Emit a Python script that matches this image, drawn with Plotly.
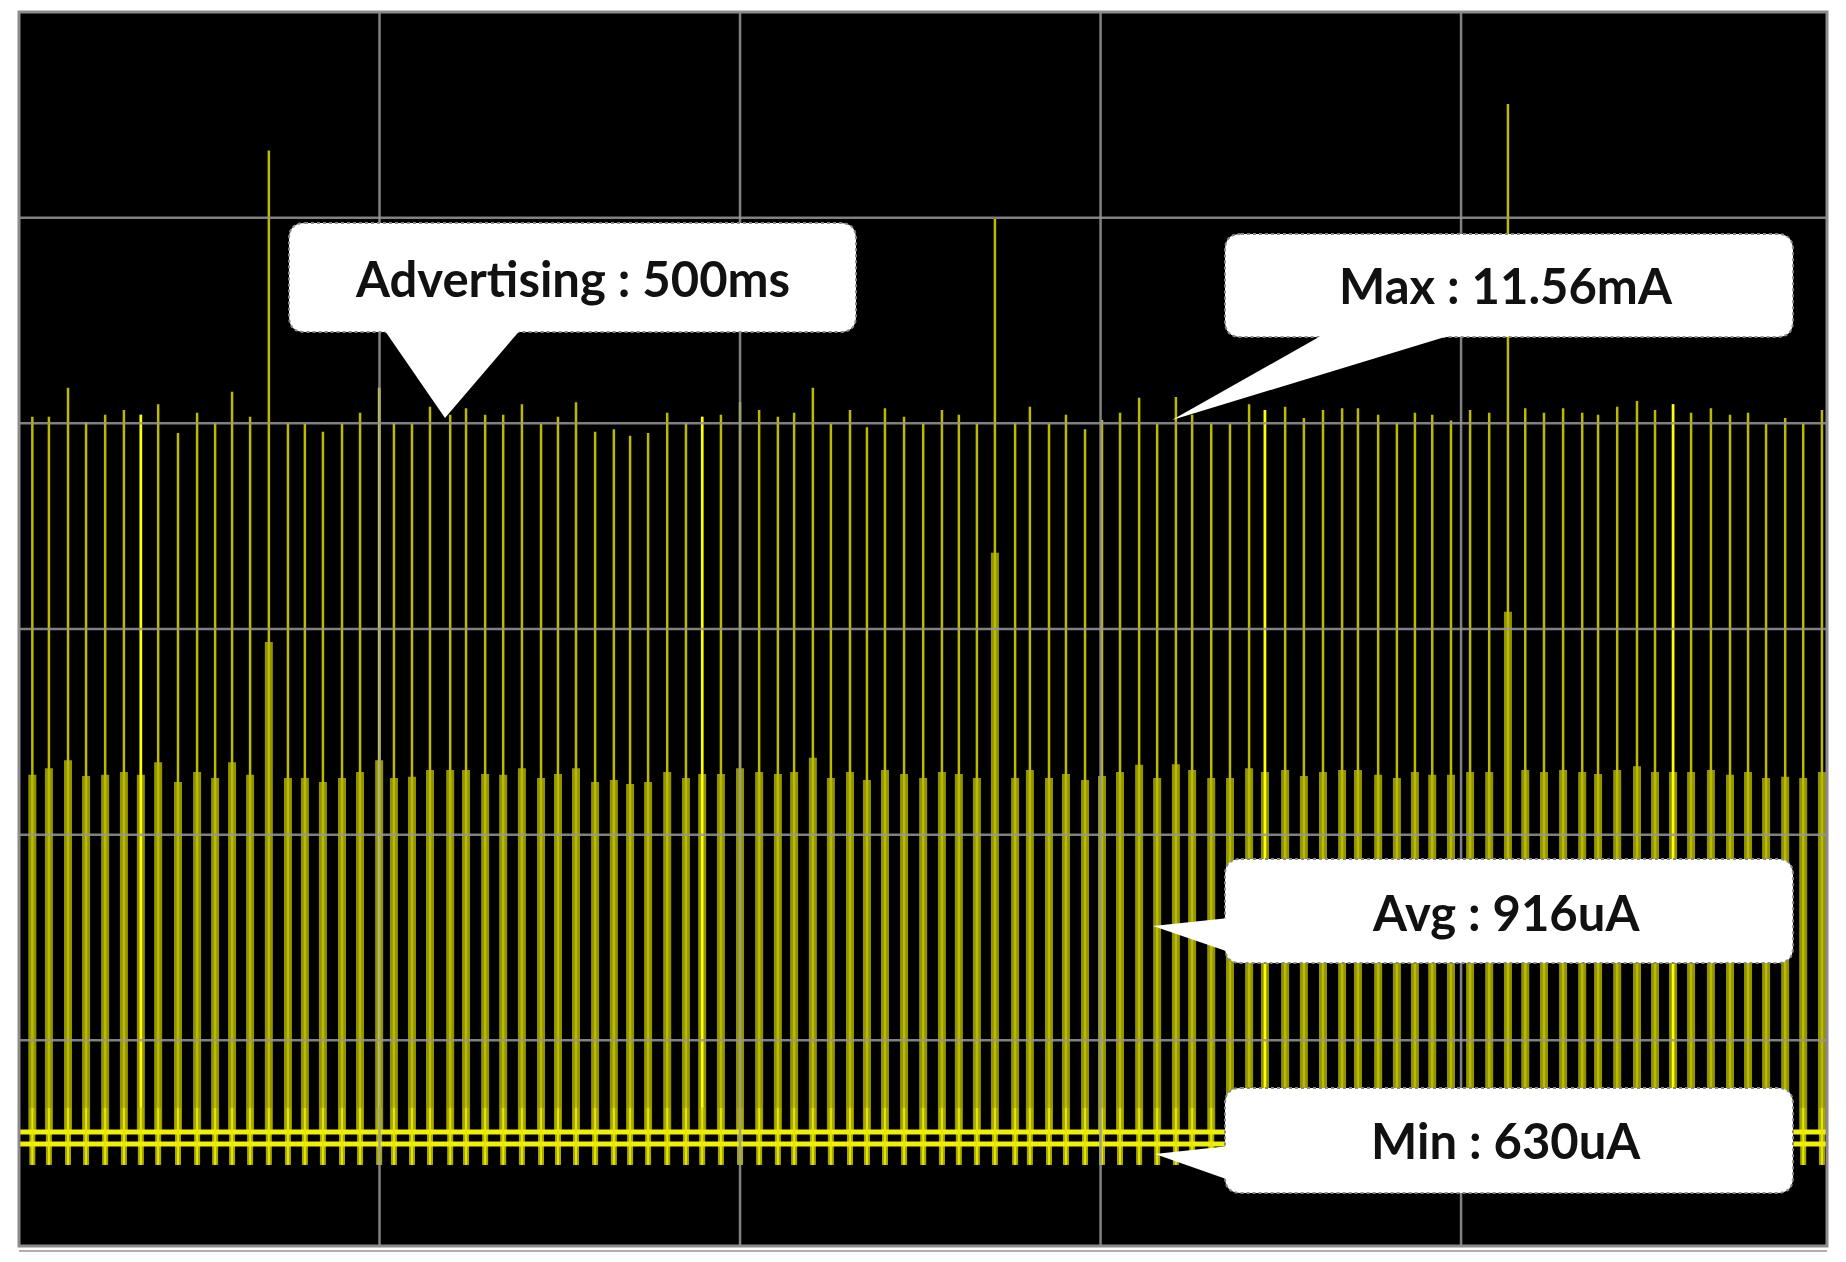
import plotly.graph_objects as go

# pulse times (s), 10 s per division
pulse_t = [0.37, 0.83, 1.36, 1.86, 2.39, 2.91, 3.38, 3.86, 4.41, 4.94,
           5.44, 5.91, 6.41, 6.93, 7.46, 7.93, 8.43, 8.96, 9.46, 9.99,
           10.40, 10.90, 11.40, 11.96, 12.40, 12.93, 13.43, 13.95, 14.48, 14.95,
           15.45, 15.98, 16.50, 16.95, 17.45, 17.98, 18.50, 18.95, 19.47, 20.00,
           20.53, 21.05, 21.50, 22.02, 22.52, 23.05, 23.52, 24.02, 24.55, 25.08,
           25.60, 26.07, 26.57, 27.07, 27.63, 28.04, 28.57, 29.04, 29.57, 30.04,
           30.54, 31.07, 31.57, 32.09, 32.54, 33.07, 33.59, 34.12, 34.56, 35.12,
           35.64, 36.17, 36.70, 37.14, 37.70, 38.22, 38.72, 39.20, 39.72, 40.25,
           40.78, 41.30, 41.78, 42.30, 42.83, 43.36, 43.80, 44.33, 44.88, 45.38,
           45.88, 46.38, 46.93, 47.46, 47.96, 48.46, 48.99, 49.49, 50.01]

# peak current of each advertising pulse (mA)
peak_ma = [11.64, 11.64, 12.08, 11.56, 11.67, 11.74, 11.67, 11.83, 11.39, 11.70,
           11.54, 12.02, 11.64, 15.69, 11.54, 11.53, 11.41, 11.53, 11.70, 12.08,
           11.54, 11.53, 11.79, 11.67, 11.77, 11.67, 11.67, 11.83, 11.53, 11.64,
           11.86, 11.41, 11.45, 11.35, 11.39, 11.70, 11.54, 11.64, 11.67, 11.86,
           11.74, 11.64, 11.70, 12.08, 11.53, 11.74, 11.48, 11.77, 11.64, 11.53,
           11.74, 11.67, 11.53, 14.65, 11.54, 11.79, 11.53, 11.67, 11.45, 11.59,
           11.70, 11.93, 11.53, 11.94, 11.67, 11.53, 11.53, 11.83, 11.74, 11.79,
           11.62, 11.74, 11.77, 11.77, 11.67, 11.54, 11.70, 11.67, 11.58, 11.74,
           11.70, 16.40, 11.77, 11.70, 11.77, 11.70, 11.67, 11.79, 11.88, 11.74,
           11.83, 11.70, 11.77, 11.67, 11.70, 11.53, 11.62, 11.53, 11.74]

# level of the wide radio-on plateau of each pulse (mA)
plateau_ma = [6.19, 6.29, 6.41, 6.17, 6.19, 6.23, 6.19, 6.38, 6.08, 6.23,
              6.14, 6.38, 6.19, 8.21, 6.14, 6.14, 6.08, 6.14, 6.23, 6.41,
              6.14, 6.16, 6.26, 6.26, 6.26, 6.20, 6.19, 6.29, 6.14, 6.20,
              6.29, 6.08, 6.11, 6.05, 6.08, 6.23, 6.14, 6.20, 6.20, 6.29,
              6.23, 6.20, 6.23, 6.45, 6.14, 6.23, 6.11, 6.26, 6.20, 6.14,
              6.23, 6.20, 6.14, 9.57, 6.14, 6.26, 6.14, 6.20, 6.11, 6.17,
              6.23, 6.34, 6.14, 6.35, 6.26, 6.14, 6.14, 6.29, 6.23, 6.26,
              6.17, 6.23, 6.26, 6.26, 6.19, 6.14, 6.23, 6.19, 6.19, 6.23,
              6.23, 8.67, 6.26, 6.23, 6.26, 6.23, 6.20, 6.26, 6.32, 6.23,
              6.23, 6.23, 6.26, 6.19, 6.23, 6.14, 6.16, 6.14, 6.23]

bright_pulses = [6, 19, 37, 68, 90]   # traces drawn in full yellow

sleep_hi_ma = 0.75
sleep_lo_ma = 0.57
spike_lo_ma = 0.25
spike_hi_ma = 1.12

callouts = ["Advertising : 500ms", "Max : 11.56mA", "Avg : 916uA", "Min : 630uA"]

W, H = 1846, 1262
ML, MR, MT, MB = 19, 19, 12, 16
PW, PH = W - ML - MR, H - MT - MB
X_END = 50.15
Y0, Y1 = -0.984, 17.80
Y_DIV = (Y1 - Y0) / 6


def px(x, y):
    return (x - ML) / PW, 1 - (y - MT) / PH


def segments(xs, y0s, y1s):
    sx, sy = [], []
    for x, a, b in zip(xs, y0s, y1s):
        sx += [x, x, None]
        sy += [a, b, None]
    return sx, sy


fig = go.Figure()

bx, by = segments(pulse_t, [sleep_hi_ma] * len(pulse_t), plateau_ma)
fig.add_trace(go.Scatter(x=bx, y=by, mode='lines', line=dict(color='#939300', width=8),
                         hoverinfo='skip'))

tx, ty = segments(pulse_t, [sleep_hi_ma] * len(pulse_t), peak_ma)
fig.add_trace(go.Scatter(x=tx, y=ty, mode='lines', line=dict(color='#baba00', width=2.5),
                         hoverinfo='skip'))

bt = [pulse_t[i] for i in bright_pulses]
bp = [peak_ma[i] for i in bright_pulses]
gx, gy = segments(bt, [sleep_hi_ma] * len(bt), bp)
fig.add_trace(go.Scatter(x=gx, y=gy, mode='lines', line=dict(color='#ffff00', width=2.5),
                         hoverinfo='skip'))

kx, ky = segments(pulse_t, [spike_lo_ma] * len(pulse_t), [spike_hi_ma] * len(pulse_t))
fig.add_trace(go.Scatter(x=kx, y=ky, mode='lines', line=dict(color='#a8a800', width=6),
                         hoverinfo='skip'))

for lvl in (sleep_hi_ma, sleep_lo_ma):
    fig.add_trace(go.Scatter(x=[0, X_END], y=[lvl, lvl], mode='lines',
                             line=dict(color='#f0f000', width=5), hoverinfo='skip'))

fig.add_trace(go.Scatter(x=kx, y=ky, mode='lines', line=dict(color='#e6e600', width=2),
                         hoverinfo='skip'))

shapes = []
grid = dict(color='rgba(150,150,150,0.85)', width=2.5)
for k in range(1, 5):
    shapes.append(dict(type='line', xref='x', yref='paper', x0=10 * k, x1=10 * k,
                       y0=0, y1=1, line=grid, layer='above'))
for k in range(1, 6):
    shapes.append(dict(type='line', xref='paper', yref='y', x0=0, x1=1,
                       y0=Y0 + k * Y_DIV, y1=Y0 + k * Y_DIV, line=grid, layer='above'))
shapes.append(dict(type='rect', xref='paper', yref='paper', x0=0, x1=1, y0=0, y1=1,
                   line=dict(color='#8c8c8c', width=3), layer='above'))
shapes.append(dict(type='line', xref='paper', yref='paper', x0=0, x1=1,
                   y0=px(0, 1251)[1], y1=px(0, 1251)[1],
                   line=dict(color='#b0b0b0', width=2), layer='above'))


def rounded_box(x0, y0, x1, y1, r=16):
    pts = []
    a = px(x0 + r, y0); pts.append('M %f,%f' % a)
    b = px(x1 - r, y0); pts.append('L %f,%f' % b)
    c = px(x1, y0); d = px(x1, y0 + r); pts.append('Q %f,%f %f,%f' % (c + d))
    e = px(x1, y1 - r); pts.append('L %f,%f' % e)
    f = px(x1, y1); g = px(x1 - r, y1); pts.append('Q %f,%f %f,%f' % (f + g))
    h = px(x0 + r, y1); pts.append('L %f,%f' % h)
    i = px(x0, y1); j = px(x0, y1 - r); pts.append('Q %f,%f %f,%f' % (i + j))
    k = px(x0, y0 + r); pts.append('L %f,%f' % k)
    m = px(x0, y0); pts.append('Q %f,%f %f,%f Z' % (m + a))
    return ' '.join(pts)


def tri(p1, p2, p3):
    return 'M %f,%f L %f,%f L %f,%f Z' % (px(*p1) + px(*p2) + px(*p3))


boxes = [
    ((289, 223, 856, 332), ((383, 328), (445, 418), (522, 328)), (572, 278)),
    ((1225, 234, 1793, 337), ((1326, 333), (1172, 420), (1458, 333)), (1506, 285)),
    ((1225, 859, 1793, 963), ((1229, 918), (1153, 926), (1229, 952)), (1506, 912)),
    ((1225, 1088, 1793, 1193), ((1229, 1146), (1155, 1154), (1229, 1180)), (1506, 1140)),
]

annotations = []
for (x0, y0, x1, y1), ptr, (cx, cy), label in zip([b[0] for b in boxes],
                                                  [b[1] for b in boxes],
                                                  [b[2] for b in boxes], callouts):
    shapes.append(dict(type='path', xref='paper', yref='paper', path=rounded_box(x0, y0, x1, y1),
                       fillcolor='white', line=dict(color='#8a8a8a', width=2, dash='dot'),
                       layer='above'))
    shapes.append(dict(type='path', xref='paper', yref='paper', path=tri(*ptr),
                       fillcolor='white', line=dict(width=0), layer='above'))
    ax, ay = px(cx, cy)
    annotations.append(dict(x=ax, y=ay, xref='paper', yref='paper', text='<b>%s</b>' % label,
                            showarrow=False, font=dict(family='Lato', size=49, color='#111111'),
                            xanchor='center', yanchor='middle'))

fig.update_layout(
    width=W, height=H,
    margin=dict(l=ML, r=MR, t=MT, b=MB, pad=0),
    paper_bgcolor='white',
    plot_bgcolor='black',
    showlegend=False,
    shapes=shapes,
    annotations=annotations,
    xaxis=dict(range=[0, X_END], showgrid=False, zeroline=False, showticklabels=False,
               ticks='', fixedrange=True),
    yaxis=dict(range=[Y0, Y1], showgrid=False, zeroline=False, showticklabels=False,
               ticks='', fixedrange=True),
)

fig.write_html("out.html", config={'displayModeBar': False},
               post_script="document.body.style.margin='0';")
